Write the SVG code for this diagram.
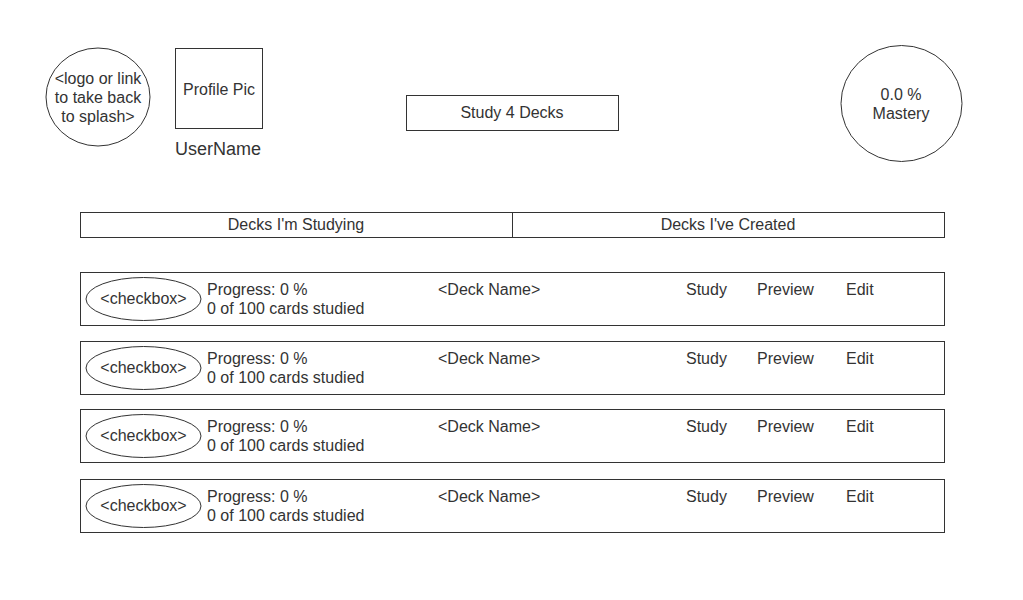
<svg xmlns="http://www.w3.org/2000/svg" width="1023" height="600" viewBox="0 0 1023 600">
<style>
.s{fill:#fff;stroke:#333;stroke-width:1}
text{font-family:"Liberation Sans",Arial,sans-serif;font-size:16px;fill:#333}
.c{text-anchor:middle}
</style>
<rect width="1023" height="600" fill="#fff"/>
<g id="logo"><ellipse class="s" cx="98" cy="97" rx="52" ry="49"/>
<text class="c" x="98" y="84">&lt;logo or link</text><text class="c" x="98" y="103">to take back</text><text class="c" x="98" y="122">to splash&gt;</text></g>
<g id="profile"><rect class="s" x="175.5" y="48.5" width="87" height="80"/><text class="c" x="219" y="95">Profile Pic</text></g>
<g id="username"><text x="175" y="155" style="font-size:18px">UserName</text></g>
<g id="study4"><rect class="s" x="406.5" y="95.5" width="212" height="35"/><text class="c" x="512" y="118">Study 4 Decks</text></g>
<g id="mastery"><ellipse class="s" cx="901.5" cy="103.5" rx="60.5" ry="58"/><text class="c" x="901" y="100">0.0 %</text><text class="c" x="901" y="119">Mastery</text></g>
<g id="tabs"><rect class="s" x="80.5" y="212.5" width="432" height="25"/><text class="c" x="296" y="230">Decks I'm Studying</text>
<rect class="s" x="512.5" y="212.5" width="432" height="25"/><text class="c" x="728" y="230">Decks I've Created</text></g>
<g id="row1"><rect class="s" x="80.5" y="272.5" width="864" height="53"/><ellipse class="s" cx="143.5" cy="299" rx="57.5" ry="21.5"/><text class="c" x="143.5" y="304">&lt;checkbox&gt;</text>
<text x="207" y="295">Progress: 0 %</text><text x="207" y="314">0 of 100 cards studied</text><text x="438" y="295">&lt;Deck Name&gt;</text><text x="686" y="295">Study</text><text x="757" y="295">Preview</text><text x="846" y="295">Edit</text></g>
<g id="row2"><rect class="s" x="80.5" y="341.5" width="864" height="53"/><ellipse class="s" cx="143.5" cy="368" rx="57.5" ry="21.5"/><text class="c" x="143.5" y="373">&lt;checkbox&gt;</text>
<text x="207" y="364">Progress: 0 %</text><text x="207" y="383">0 of 100 cards studied</text><text x="438" y="364">&lt;Deck Name&gt;</text><text x="686" y="364">Study</text><text x="757" y="364">Preview</text><text x="846" y="364">Edit</text></g>
<g id="row3"><rect class="s" x="80.5" y="409.5" width="864" height="53"/><ellipse class="s" cx="143.5" cy="436" rx="57.5" ry="21.5"/><text class="c" x="143.5" y="441">&lt;checkbox&gt;</text>
<text x="207" y="432">Progress: 0 %</text><text x="207" y="451">0 of 100 cards studied</text><text x="438" y="432">&lt;Deck Name&gt;</text><text x="686" y="432">Study</text><text x="757" y="432">Preview</text><text x="846" y="432">Edit</text></g>
<g id="row4"><rect class="s" x="80.5" y="479.5" width="864" height="53"/><ellipse class="s" cx="143.5" cy="506" rx="57.5" ry="21.5"/><text class="c" x="143.5" y="511">&lt;checkbox&gt;</text>
<text x="207" y="502">Progress: 0 %</text><text x="207" y="521">0 of 100 cards studied</text><text x="438" y="502">&lt;Deck Name&gt;</text><text x="686" y="502">Study</text><text x="757" y="502">Preview</text><text x="846" y="502">Edit</text></g>
<g id="connectors"></g>
</svg>
